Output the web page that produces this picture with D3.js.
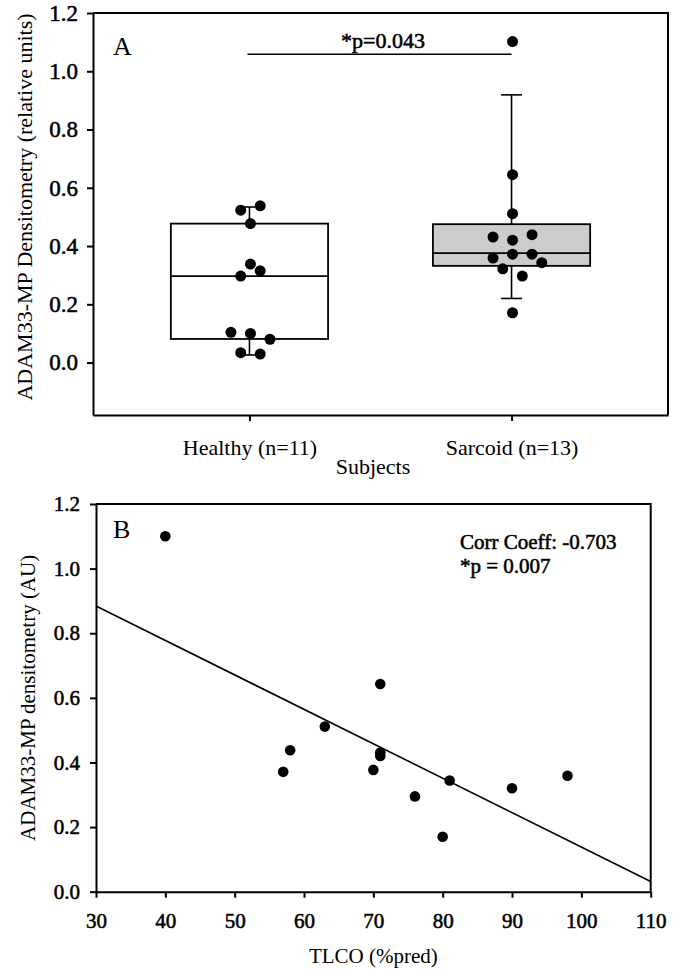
<!DOCTYPE html>
<html>
<head>
<meta charset="utf-8">
<script src="https://cdn.jsdelivr.net/npm/d3@7"></script>
<style>
  body { margin: 0; background: #fff; }
  svg text { font-family: "Liberation Serif", "Times New Roman", serif; fill: #000; }
</style>
</head>
<body>
<svg id="chart" width="677" height="971"></svg>
<script>
// panel A - box plots
const groups = ["Healthy (n=11)", "Sarcoid (n=13)"];
const healthyValues = [0.523, 0.538, 0.477, 0.338, 0.315, 0.297, 0.104, 0.100, 0.080, 0.034, 0.029];
const healthySlots  = [-1, 1, 0, 0, 1, -1, -2, 0, 2, -1, 1];
const sarcoidValues = [1.102, 0.645, 0.511, 0.431, 0.420, 0.439, 0.359, 0.372, 0.372, 0.343, 0.322, 0.297, 0.171];
const sarcoidSlots  = [0, 0, 0, -2, 0, 2, -2, 0, 2, 3, -1, 1, 0];
const boxQ1 = [0.081, 0.332];
const boxMedian = [0.297, 0.376];
const boxQ3 = [0.477, 0.475];
const whiskerLow = [0.026, 0.220];
const whiskerHigh = [0.534, 0.919];
const boxFill = ["#ffffff", "#cccccc"];
const sigLevel = 1.058;
const sigLabel = "*p=0.043";
const yTicksA = [0, 0.2, 0.4, 0.6, 0.8, 1.0, 1.2];

// panel B - scatter + fit
const tlco = [40, 57, 58, 63, 71, 71, 71, 70, 76, 80, 81, 90, 98];
const adam = [1.10, 0.371, 0.438, 0.511, 0.643, 0.431, 0.420, 0.377, 0.295, 0.170, 0.344, 0.320, 0.359];
const fitIntercept = 1.204, fitSlope = -0.01066;
const xTicksB = [30, 40, 50, 60, 70, 80, 90, 100, 110];
const yTicksB = [0, 0.2, 0.4, 0.6, 0.8, 1.0, 1.2];
const statLines = ["Corr Coeff: -0.703", "*p = 0.007"];

const svg = d3.select("#chart");

function frame(g, x0, x1, y0, y1) {
  g.append("path")
    .attr("d", `M${x0},${y0}H${x1}V${y1}`)
    .attr("fill", "none").attr("stroke", "#000").attr("stroke-width", 2);
}
// heavier text: regular face with a thin outline
function heavy(sel) {
  sel.attr("stroke", "#000").attr("stroke-width", 0.55).attr("paint-order", "stroke");
}
function styleAxis(size, thick) {
  return g => {
    g.selectAll("path.domain").attr("stroke-width", 2);
    g.selectAll(".tick line").attr("stroke-width", 2);
    const t = g.selectAll("text").attr("font-size", size).attr("font-family", null);
    if (thick) t.call(heavy);
  };
}

// ---------- Panel A ----------
const A = { l: 93, r: 668, t: 13, b: 415 };
const xA = d3.scalePoint().domain(groups).range([A.l, A.r]).padding(0.597);
const yA = d3.scaleLinear().domain([-0.18, 1.2]).range([A.b, A.t]);
const step = xA.step(), boxW = step * 0.6, capW = 21, slotW = 9.75;

const gA = svg.append("g");
frame(gA, A.l, A.r, A.t, A.b);

gA.append("g").attr("transform", `translate(${A.l},0)`)
  .call(d3.axisLeft(yA).tickValues(yTicksA).tickFormat(d3.format(".1f"))
    .tickSize(6).tickPadding(9).tickSizeOuter(0))
  .call(styleAxis(23, true));

gA.append("g").attr("transform", `translate(0,${A.b})`)
  .call(d3.axisBottom(xA).tickSize(6).tickPadding(18).tickSizeOuter(0))
  .call(styleAxis(22, false));

// boxes
groups.forEach((gname, i) => {
  const cx = xA(gname);
  const g = gA.append("g");
  g.append("line").attr("x1", cx).attr("x2", cx)
    .attr("y1", yA(boxQ3[i])).attr("y2", yA(whiskerHigh[i]))
    .attr("stroke", "#000").attr("stroke-width", 1.6);
  g.append("line").attr("x1", cx).attr("x2", cx)
    .attr("y1", yA(boxQ1[i])).attr("y2", yA(whiskerLow[i]))
    .attr("stroke", "#000").attr("stroke-width", 1.6);
  [whiskerHigh[i], whiskerLow[i]].forEach(v => {
    g.append("line").attr("x1", cx - capW / 2).attr("x2", cx + capW / 2)
      .attr("y1", yA(v)).attr("y2", yA(v))
      .attr("stroke", "#000").attr("stroke-width", 1.6);
  });
  g.append("rect").attr("x", cx - boxW / 2).attr("width", boxW)
    .attr("y", yA(boxQ3[i])).attr("height", yA(boxQ1[i]) - yA(boxQ3[i]))
    .attr("fill", boxFill[i]).attr("stroke", "#000").attr("stroke-width", 1.8);
  g.append("line").attr("x1", cx - boxW / 2).attr("x2", cx + boxW / 2)
    .attr("y1", yA(boxMedian[i])).attr("y2", yA(boxMedian[i]))
    .attr("stroke", "#000").attr("stroke-width", 1.8);
});

// points
const ptsA = healthyValues.map((v, i) => ({ g: groups[0], v: v, s: healthySlots[i] }))
  .concat(sarcoidValues.map((v, i) => ({ g: groups[1], v: v, s: sarcoidSlots[i] })));
gA.selectAll("circle.pt").data(ptsA).join("circle")
  .attr("class", "pt")
  .attr("cx", d => xA(d.g) + 1 + d.s * slotW)
  .attr("cy", d => yA(d.v))
  .attr("r", 5.5).attr("fill", "#000");

// significance bar
gA.append("line")
  .attr("x1", xA(groups[0]) - 2).attr("x2", xA(groups[1]))
  .attr("y1", yA(sigLevel)).attr("y2", yA(sigLevel))
  .attr("stroke", "#000").attr("stroke-width", 1.5);
gA.append("text").attr("x", 383).attr("y", 47.5).attr("text-anchor", "middle")
  .attr("font-size", 22).text(sigLabel).call(heavy);

gA.append("text").attr("x", 113).attr("y", 55).attr("font-size", 26).text("A");
gA.append("text").attr("x", 373).attr("y", 474).attr("text-anchor", "middle")
  .attr("font-size", 22).text("Subjects");
gA.append("text").attr("transform", `translate(31.5,${(A.t + A.b) / 2 - 7}) rotate(-90)`)
  .attr("text-anchor", "middle").attr("font-size", 22)
  .text("ADAM33-MP Densitometry (relative units)");

// ---------- Panel B ----------
const B = { l: 96, r: 650.7, t: 504, b: 891.7 };
const xB = d3.scaleLinear().domain([30, 110]).range([B.l, B.r]);
const yB = d3.scaleLinear().domain([0, 1.2]).range([B.b, B.t]);

const gB = svg.append("g");
frame(gB, B.l, B.r, B.t, B.b);

gB.append("g").attr("transform", `translate(${B.l},0)`)
  .call(d3.axisLeft(yB).tickValues(yTicksB).tickFormat(d3.format(".1f"))
    .tickSize(6).tickPadding(10).tickSizeOuter(0))
  .call(styleAxis(21, true));

gB.append("g").attr("transform", `translate(0,${B.b})`)
  .call(d3.axisBottom(xB).tickValues(xTicksB).tickFormat(d3.format("d"))
    .tickSize(6).tickPadding(15).tickSizeOuter(0))
  .call(styleAxis(21, true));

const fitX = xB.domain();
gB.append("line")
  .attr("x1", xB(fitX[0])).attr("y1", yB(fitIntercept + fitSlope * fitX[0]))
  .attr("x2", xB(fitX[1])).attr("y2", yB(fitIntercept + fitSlope * fitX[1]))
  .attr("stroke", "#000").attr("stroke-width", 1.6);

gB.selectAll("circle.pt").data(tlco).join("circle")
  .attr("class", "pt")
  .attr("cx", (d, i) => xB(d))
  .attr("cy", (d, i) => yB(adam[i]))
  .attr("r", 5.3).attr("fill", "#000");

gB.selectAll("text.stat").data(statLines).join("text")
  .attr("class", "stat")
  .attr("x", 460).attr("y", (d, i) => 549 + i * 24)
  .attr("font-size", 21).text(d => d).call(heavy);

gB.append("text").attr("x", 113).attr("y", 538).attr("font-size", 26).text("B");
gB.append("text").attr("x", (B.l + B.r) / 2).attr("y", 963).attr("text-anchor", "middle")
  .attr("font-size", 21).text("TLCO (%pred)");
gB.append("text").attr("transform", `translate(35,${(B.t + B.b) / 2}) rotate(-90)`)
  .attr("text-anchor", "middle").attr("font-size", 21)
  .text("ADAM33-MP densitometry (AU)");
</script>
</body>
</html>
